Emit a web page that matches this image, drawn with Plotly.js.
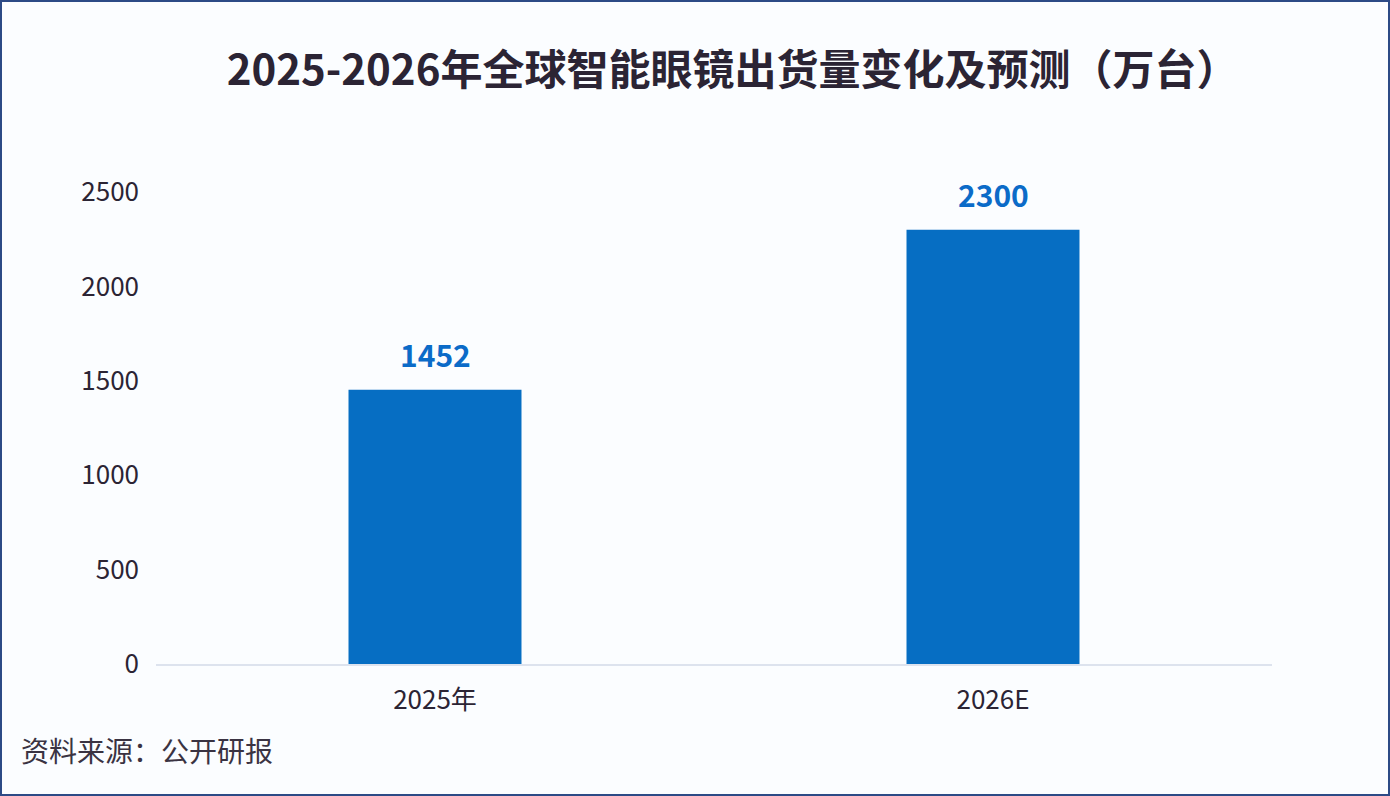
<!DOCTYPE html>
<html>
<head>
<meta charset="utf-8">
<script src="https://cdn.plot.ly/plotly-3.0.1.min.js"></script>
<style>
html,body{margin:0;padding:0;background:#fbfdff;}
#wrap{position:relative;width:1390px;height:796px;}
#chart{width:1390px;height:796px;}
#frame{position:absolute;left:0;top:0;width:1390px;height:796px;box-sizing:border-box;border:2px solid #2c4a86;pointer-events:none;}
</style>
</head>
<body>
<div id="wrap"><div id="chart"></div><div id="frame"></div></div>
<script>
const categories = ["2025年", "2026E"];
const shipments = [1452, 2300];
const yTicks = [0, 500, 1000, 1500, 2000, 2500];
const titleText = "2025-2026年全球智能眼镜出货量变化及预测（万台）";
const sourceText = "资料来源：公开研报";

const font = "'Noto Sans CJK SC', 'Noto Sans', sans-serif";
const textDark = "#2b2434";

const trace = {
  type: "bar",
  x: categories,
  y: shipments,
  marker: {color: "#066ec3"},
  hoverinfo: "skip"
};

const valueLabels = categories.map((c, i) => ({
  x: c, y: shipments[i], xref: "x", yref: "y",
  text: "<b>" + shipments[i] + "</b>",
  showarrow: false,
  yanchor: "middle", xanchor: "center",
  yshift: 36,
  font: {family: font, size: 30, color: "#0b6bc8"}
}));

const layout = {
  width: 1390,
  height: 796,
  paper_bgcolor: "#fbfdff",
  plot_bgcolor: "#fbfdff",
  margin: {l: 156, r: 118, t: 192, b: 132},
  bargap: 0.69,
  showlegend: false,
  title: {
    text: "<b>" + titleText + "</b>",
    x: 0.527, xanchor: "center", xref: "container",
    y: 0.912, yanchor: "middle", yref: "container",
    font: {family: font, size: 42, color: textDark}
  },
  xaxis: {
    showgrid: false,
    showline: true,
    linecolor: "#dde3ee",
    linewidth: 1.5,
    ticks: "",
    tickfont: {family: font, size: 26, color: textDark},
    ticklabelstandoff: 12,
    zeroline: false
  },
  yaxis: {
    range: [0, 2500],
    tickvals: yTicks,
    ticktext: yTicks.map(String),
    showgrid: false,
    showline: false,
    zeroline: false,
    ticks: "",
    tickfont: {family: font, size: 26, color: textDark},
    ticklabelstandoff: 16
  },
  annotations: valueLabels.concat([{
    text: sourceText,
    xref: "paper", yref: "paper",
    x: -0.1227, y: -0.182,
    xanchor: "left", yanchor: "middle",
    showarrow: false,
    font: {family: font, size: 28, color: "#3a3342"}
  }])
};

Plotly.newPlot("chart", [trace], layout, {displayModeBar: false, staticPlot: true});
</script>
</body>
</html>
